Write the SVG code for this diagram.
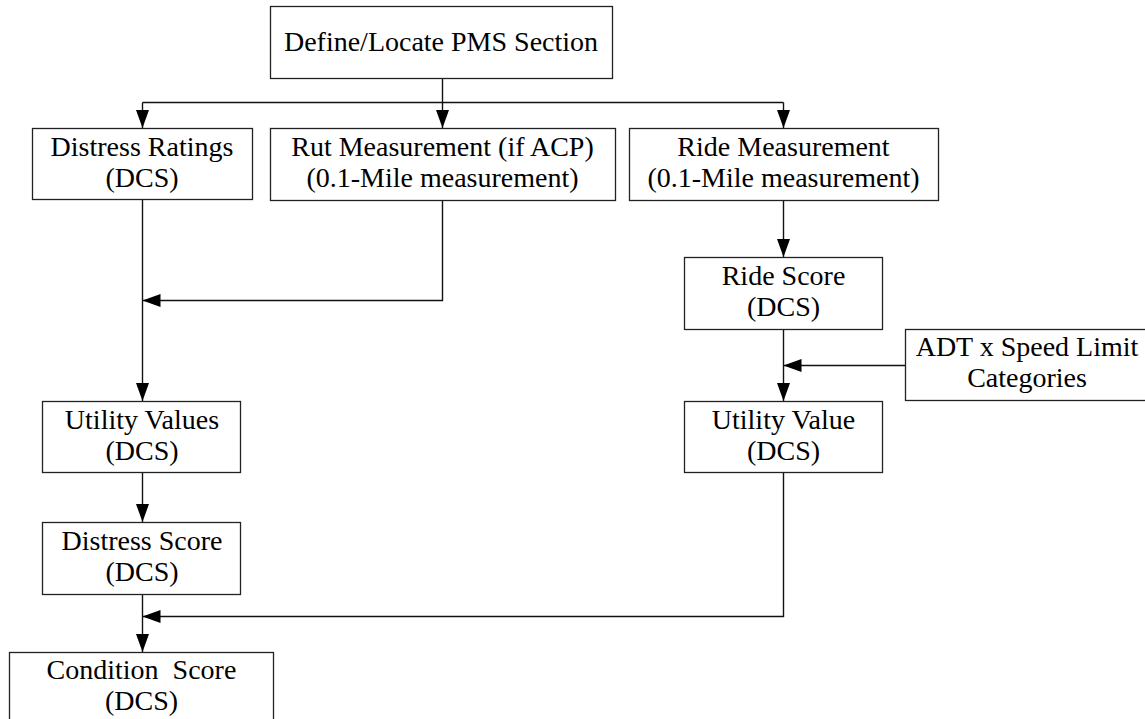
<svg xmlns="http://www.w3.org/2000/svg" width="1145" height="719" viewBox="0 0 1145 719">
<style>
.box{fill:#fff;stroke:#222;stroke-width:1.3}
.t{font-family:'Liberation Serif','DejaVu Serif','Noto Serif',serif;font-size:28px;fill:#000;text-anchor:middle}
.c{fill:none;stroke:#111;stroke-width:1.4}
</style>
<defs>
<marker id="ah" markerUnits="userSpaceOnUse" markerWidth="20" markerHeight="14" refX="18" refY="6.5" orient="auto">
<path d="M0,0 L18,6.5 L0,13 z" fill="#000"/>
</marker>
</defs>
<rect width="1145" height="719" fill="#fff"/>
<g id="connectors">
<path class="c" d="M442.5,78 V102.5"/>
<path class="c" d="M142.5,102.5 H783.5"/>
<path class="c" d="M142.5,102.5 V128" marker-end="url(#ah)"/>
<path class="c" d="M442.5,102.5 V128" marker-end="url(#ah)"/>
<path class="c" d="M783.5,102.5 V128" marker-end="url(#ah)"/>
<path class="c" d="M142.5,199 V401" marker-end="url(#ah)"/>
<path class="c" d="M442.5,200 V300.5 H142.5" marker-end="url(#ah)"/>
<path class="c" d="M783.5,200 V257" marker-end="url(#ah)"/>
<path class="c" d="M783.5,329 V401" marker-end="url(#ah)"/>
<path class="c" d="M905,365.5 H783.5" marker-end="url(#ah)"/>
<path class="c" d="M783.5,472 V616.5 H142.5" marker-end="url(#ah)"/>
<path class="c" d="M142.5,472 V522" marker-end="url(#ah)"/>
<path class="c" d="M142.5,594 V652" marker-end="url(#ah)"/>
</g>
<g id="n-define">
<rect class="box" x="270.5" y="6.5" width="342" height="72"/>
<text class="t" x="441" y="51">Define/Locate PMS Section</text>
</g>
<g id="n-distress-ratings">
<rect class="box" x="32.5" y="128.5" width="220" height="71"/>
<text class="t" x="142" y="156">Distress Ratings</text>
<text class="t" x="142" y="187">(DCS)</text>
</g>
<g id="n-rut">
<rect class="box" x="270.5" y="128.5" width="345" height="72"/>
<text class="t" x="442.5" y="156">Rut Measurement (if ACP)</text>
<text class="t" x="442.5" y="187">(0.1-Mile measurement)</text>
</g>
<g id="n-ride-measurement">
<rect class="box" x="629.5" y="128.5" width="309" height="72"/>
<text class="t" x="783.5" y="156">Ride Measurement</text>
<text class="t" x="783.5" y="187">(0.1-Mile measurement)</text>
</g>
<g id="n-ride-score">
<rect class="box" x="684.5" y="257.5" width="198" height="72"/>
<text class="t" x="783.5" y="285">Ride Score</text>
<text class="t" x="783.5" y="316">(DCS)</text>
</g>
<g id="n-adt">
<rect class="box" x="905.5" y="329.5" width="242" height="71"/>
<text class="t" x="1027" y="356">ADT x Speed Limit</text>
<text class="t" x="1027" y="387">Categories</text>
</g>
<g id="n-utility-value">
<rect class="box" x="684.5" y="401.5" width="198" height="71"/>
<text class="t" x="783.5" y="429">Utility Value</text>
<text class="t" x="783.5" y="460">(DCS)</text>
</g>
<g id="n-utility-values">
<rect class="box" x="42.5" y="401.5" width="198" height="71"/>
<text class="t" x="142" y="429">Utility Values</text>
<text class="t" x="142" y="460">(DCS)</text>
</g>
<g id="n-distress-score">
<rect class="box" x="42.5" y="522.5" width="198" height="72"/>
<text class="t" x="142" y="550">Distress Score</text>
<text class="t" x="142" y="581">(DCS)</text>
</g>
<g id="n-condition-score">
<rect class="box" x="9.5" y="652.5" width="264" height="80"/>
<text class="t" x="141.5" y="679" xml:space="preserve">Condition  Score</text>
<text class="t" x="141.5" y="710">(DCS)</text>
</g>
</svg>
